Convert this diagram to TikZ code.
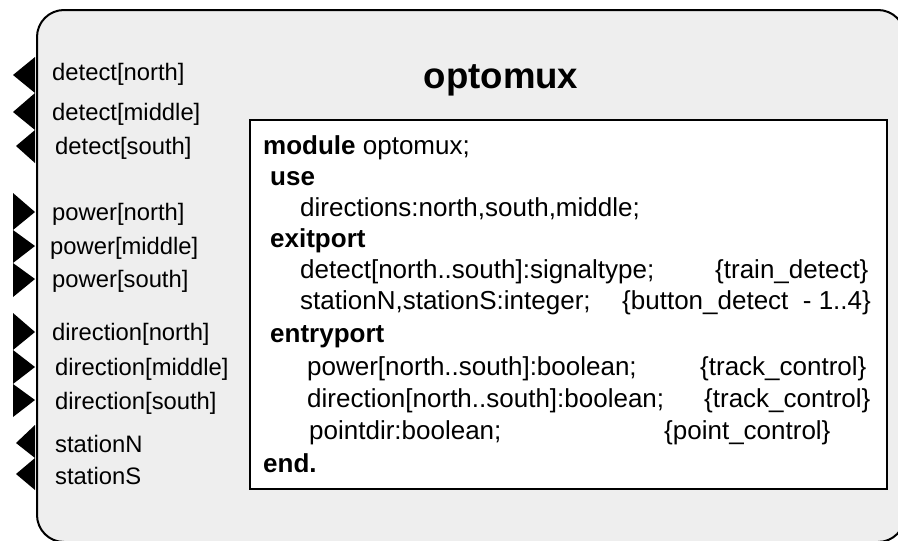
\documentclass[tikz,border=0pt]{standalone}
\usepackage{fontspec}
\setmainfont{Liberation Sans}
\definecolor{panel}{HTML}{EEEEEE}
\begin{document}
\begin{tikzpicture}[x=1pt,y=-1pt,
  port/.style={fill=black},
  lbl/.style={anchor=base west, inner sep=0pt, font=\fontsize{23.8}{28}\selectfont},
  code/.style={anchor=base west, inner sep=0pt, font=\fontsize{26}{30}\selectfont},
  kw/.style={code, font=\fontsize{26}{30}\selectfont\bfseries},
  ]
\useasboundingbox (0,0) rectangle (898,541);
\clip (0,0) rectangle (898,541);
% outer module panel
\draw[line width=2pt, fill=panel, rounded corners=27pt] (37,10) rectangle (905,542);
\node[font=\fontsize{36.6}{40}\selectfont\bfseries, inner sep=0pt, anchor=base] (title) at (501,88) {optomux};
% exit ports (pointing left)
\fill[port] (35,57) -- (13,75) -- (35,93) -- cycle;
\fill[port] (35,93) -- (13,112) -- (35,130) -- cycle;
\fill[port] (35,130) -- (16,146) -- (35,163) -- cycle;
% entry ports (pointing right)
\fill[port] (13,193) -- (35,212) -- (13,230) -- cycle;
\fill[port] (13,230) -- (35,246) -- (13,263) -- cycle;
\fill[port] (13,263) -- (35,279) -- (13,297) -- cycle;
\fill[port] (13,313) -- (35,332) -- (13,350) -- cycle;
\fill[port] (13,350) -- (35,367) -- (13,384) -- cycle;
\fill[port] (13,384) -- (35,400) -- (13,417) -- cycle;
% station exit ports
\fill[port] (35,425) -- (16,443) -- (35,458) -- cycle;
\fill[port] (35,458) -- (16,474) -- (35,490) -- cycle;
% port labels
\node[lbl] (dn) at (52,80) {detect[north]};
\node[lbl] (dm) at (52,120) {detect[middle]};
\node[lbl] (ds) at (55,154) {detect[south]};
\node[lbl] (pn) at (52,220) {power[north]};
\node[lbl] (pm) at (50,254) {power[middle]};
\node[lbl] (ps) at (52,287) {power[south]};
\node[lbl] (rn) at (52,340) {direction[north]};
\node[lbl] (rm) at (55,375) {direction[middle]};
\node[lbl] (rs) at (55,409) {direction[south]};
\node[lbl] (sn) at (55,452) {stationN};
\node[lbl] (ss) at (55,484) {stationS};
% specification box
\node[draw, line width=2pt, fill=white, minimum width=637pt, minimum height=369pt,
      anchor=north west, inner sep=0pt] (spec) at (249,119) {};
\node[code] (l1) at (263,154) {\textbf{module} optomux;};
\node[kw] (l2) at (270,185) {use};
\node[code] (l3) at (300,216) {directions:north,south,middle;};
\node[kw] (l4) at (270,247) {exitport};
\node[code] (l5) at (300,278) {detect[north..south]:signaltype;};
\node[code] (c5) at (715,278) {\{train\_detect\}};
\node[code] (l6) at (300,309) {stationN,stationS:integer;};
\node[code] (c6) at (622,309) {\{button\_detect\ \ - 1..4\}};
\node[kw] (l7) at (270,342) {entryport};
\node[code] (l8) at (307,375) {power[north..south]:boolean;};
\node[code] (c8) at (700,375) {\{track\_control\}};
\node[code] (l9) at (307,407) {direction[north..south]:boolean;};
\node[code] (c9) at (704,407) {\{track\_control\}};
\node[code] (l10) at (309,439) {pointdir:boolean;};
\node[code] (c10) at (664,439) {\{point\_control\}};
\node[kw] (l11) at (263,472) {end.};
\end{tikzpicture}
\end{document}
